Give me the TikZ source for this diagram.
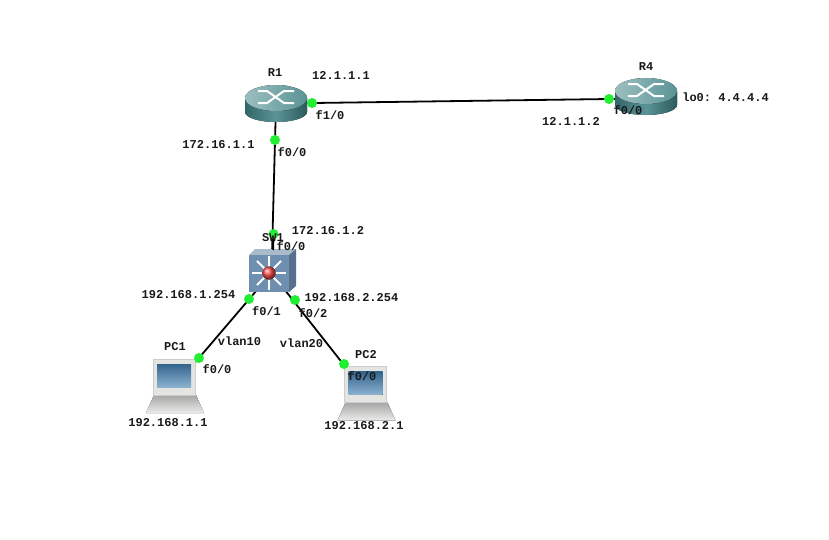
\documentclass[tikz,border=0pt]{standalone}
\usepackage{fontspec}
\setmonofont{Liberation Mono}
\usetikzlibrary{positioning}
\definecolor{routertop}{HTML}{9CBFC0}
\definecolor{routerbody}{HTML}{3E8184}
\definecolor{switchface}{HTML}{6F8FB0}
\definecolor{switchtop}{HTML}{A9BBCB}
\definecolor{switchside}{HTML}{566F8C}
\definecolor{portgreen}{HTML}{22EE33}
\definecolor{pcgrey}{HTML}{D9D9D4}
\definecolor{pcscreen}{HTML}{3F7DB0}

\tikzset{
  routericon/.pic={
    \fill[left color=routerbody!80!black, right color=routerbody!70!black, middle color=routerbody!85!white]
      (-31,-7) -- (-31,7) arc[start angle=180, end angle=0, x radius=31, y radius=10] -- (31,-7) -- cycle;
    \fill[left color=routertop, right color=routerbody!70!routertop] (0,-7) ellipse[x radius=31, y radius=13];
    \draw[white, line width=2pt] (-18,-14) -- (-9,-14) -- (8,-2) -- (18,-2);
    \draw[white, line width=2pt] (-18,-2) -- (-9,-2) -- (8,-14) -- (18,-14);
  },
  switchicon/.pic={
    \fill[switchtop] (-20,-18) -- (-14,-24) -- (27,-24) -- (20,-18) -- cycle;
    \fill[switchside] (20,-18) -- (27,-24) -- (27,13) -- (20,19) -- cycle;
    \fill[switchface] (-20,-18) rectangle (20,19);
    \foreach \ang in {0,45,...,315}
      \draw[white, line width=1.8pt] (\ang:6) -- (\ang:17);
    \fill[ball color=red!70!white] (0,0) circle[radius=6.5];
  },
  pcicon/.pic={
    \fill[top color=gray!70, bottom color=pcgrey!50!white] (-28,27) -- (-20,9) -- (22,9) -- (30,27) -- cycle;
    \fill[pcgrey!70!white, draw=gray!40] (-21,-27) rectangle (21,9);
    \fill[top color=pcscreen!80!black, bottom color=pcscreen!60!white] (-17,-22) rectangle (17,1);
  }
}

\begin{document}
\begin{tikzpicture}[
    x=1pt, y=-1pt,
    lbl/.style={font=\ttfamily\bfseries\fontsize{12}{13}\selectfont, inner sep=0pt, text=black!90},
    port/.style={circle, fill=portgreen, minimum size=10pt, inner sep=0pt},
    device/.style={inner sep=0pt, minimum size=1pt},
    lnk/.style={line width=1.8pt, black}
  ]
  \useasboundingbox (0,0) rectangle (829,539);
  \fill[white] (0,0) rectangle (829,539);

  \node[device] (r1) at (276,103.5) {};
  \node[device] (r4) at (646,98.5) {};
  \node[device] (sw) at (271.5,273) {};
  \node[device] (pc1) at (175,386) {};
  \node[device] (pc2) at (366,393) {};

  % links
  \draw[lnk] (r1) -- (r4);
  \draw[lnk] (r1) -- (sw);
  \draw[lnk] (sw) -- (pc1);
  \draw[lnk] (sw) -- (pc2);

  % icons
  \pic at (276,105) {routericon};
  \pic at (646,98) {routericon};
  \pic at (269,273) {switchicon};
  \pic at (174,386) {pcicon};
  \pic at (365.5,393.5) {pcicon};
  \draw[lnk] (273.5,234) -- (273.2,250);

  % ports
  \node[port] (p1) at (312,103) {};
  \node[port] (p2) at (275,140) {};
  \node[port] (p3) at (609,99) {};
  \node[port] (p4) at (273.5,234) {};
  \node[port] (p5) at (249,299) {};
  \node[port] (p6) at (295,300) {};
  \node[port] (p7) at (199,358) {};
  \node[port] (p8) at (344,364) {};

  % labels
  \node[lbl] (nr1) at (275,73) {R1};
  \node[lbl] (nr4) at (646,67) {R4};
  \node[lbl] (nsw) at (273,238) {SW1};
  \node[lbl] (npc1) at (175,347) {PC1};
  \node[lbl] (npc2) at (366,355) {PC2};

  \node[lbl] (a1) at (341,75) {12.1.1.1};
  \node[lbl] (a2) at (330,115) {f1/0};
  \node[lbl] (a3) at (218.5,145) {172.16.1.1};
  \node[lbl] (a4) at (292,152) {f0/0};
  \node[lbl] (a5) at (571,121) {12.1.1.2};
  \node[lbl] (a6) at (628,110) {f0/0};
  \node[lbl] (a7) at (725.5,97) {lo0: 4.4.4.4};
  \node[lbl] (a8) at (328,231) {172.16.1.2};
  \node[lbl] (a9) at (291,246) {f0/0};
  \node[lbl] (a10) at (188.5,295) {192.168.1.254};
  \node[lbl] (a11) at (351.5,298) {192.168.2.254};
  \node[lbl] (a12) at (266.5,311) {f0/1};
  \node[lbl] (a13) at (313,313) {f0/2};
  \node[lbl] (a14) at (239.5,341) {vlan10};
  \node[lbl] (a15) at (301.5,343) {vlan20};
  \node[lbl] (a16) at (217,369) {f0/0};
  \node[lbl] (a17) at (362,376) {f0/0};
  \node[lbl] (a18) at (168,423) {192.168.1.1};
  \node[lbl] (a19) at (364,426) {192.168.2.1};
\end{tikzpicture}
\end{document}
